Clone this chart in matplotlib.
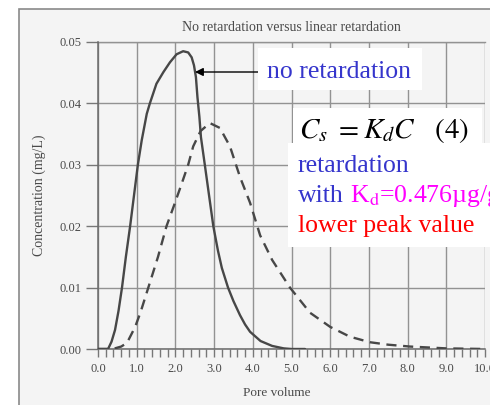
import matplotlib
matplotlib.use("Agg")
import matplotlib.pyplot as plt
from matplotlib.patches import Rectangle
from matplotlib.ticker import MultipleLocator

# ---- data ----
solid_x = [0.0, 0.26, 0.35, 0.44, 0.53, 0.62, 0.72, 0.83, 0.93, 1.03, 1.13, 1.26,
           1.34, 1.51, 1.69, 1.86, 2.03, 2.2, 2.33, 2.42, 2.48, 2.53, 2.57, 2.62,
           2.66, 2.76, 2.87, 2.98, 3.1, 3.2, 3.36, 3.5, 3.67, 3.8, 3.93, 4.2, 4.5,
           4.8, 5.0, 5.35]
solid_y = [0.0, 0.0, 0.0012, 0.0031, 0.0062, 0.010, 0.015, 0.020, 0.025, 0.030,
           0.034, 0.0383, 0.040, 0.0432, 0.0451, 0.0467, 0.048, 0.0485, 0.0483,
           0.0475, 0.0462, 0.0443, 0.041, 0.0378, 0.0345, 0.030, 0.025, 0.020,
           0.016, 0.0132, 0.010, 0.0078, 0.0055, 0.0040, 0.0028, 0.0013, 0.0005,
           0.0001, 0.0, 0.0]

dash_x = [0.0, 0.38, 0.6, 0.75, 0.96, 1.1, 1.3, 1.55, 1.77, 1.96, 2.15, 2.33,
          2.46, 2.65, 2.89, 3.15, 3.41, 3.67, 3.93, 4.19, 4.5, 4.96, 5.48, 6.0,
          6.51, 7.03, 7.5, 8.06, 9.0, 10.0]
dash_y = [0.0, 0.0, 0.0004, 0.001, 0.0036, 0.006, 0.010, 0.015, 0.020, 0.0233,
          0.0267, 0.030, 0.033, 0.0355, 0.0368, 0.036, 0.033, 0.028, 0.0238,
          0.0185, 0.0145, 0.010, 0.0059, 0.0036, 0.0020, 0.0011, 0.0007, 0.0004,
          0.0001, 0.0]

x_ticks = [0, 1, 2, 3, 4, 5, 6, 7, 8, 9, 10]
x_labels = ["0.0", "1.0", "2.0", "3.0", "4.0", "5.0", "6.0", "7.0", "8.0", "9.0", "10.0"]
y_ticks = [0.0, 0.01, 0.02, 0.03, 0.04, 0.05]
y_labels = ["0.00", "0.01", "0.02", "0.03", "0.04", "0.05"]

title = "No retardation versus linear retardation"
xlabel = "Pore volume"
ylabel = "Concentration (mg/L)"

# ---- figure ----
W, H = 490, 405
plt.rcParams['mathtext.fontset'] = 'stix'
serif = ['Liberation Serif', 'DejaVu Serif']
fig = plt.figure(figsize=(W / 100, H / 100), dpi=100, facecolor='white')

def fx(x):
    return x / W

def fy(y):
    return 1 - y / H

# paper frame (behind everything)
fig.add_artist(Rectangle((fx(19), -0.01), 1, fy(9) + 0.01, transform=fig.transFigure,
                         facecolor='#f4f4f4', edgecolor='#8a8a8a', lw=1.2,
                         zorder=-10))

ax = fig.add_axes([fx(98), fy(349), fx(485) - fx(98), fy(42) - fy(349)])
ax.set_facecolor('none')
ax.set_xlim(0, 10)
ax.set_ylim(0, 0.05)

gray_txt = '#4a4a4a'
ax.plot(solid_x, solid_y, color='#474747', lw=1.7, solid_joinstyle='round',
        solid_capstyle='round', zorder=3)
ax.plot(dash_x, dash_y, color='#474747', lw=1.7, linestyle=(0, (4.3, 2.8)), zorder=3)

ax.set_xticks(x_ticks)
ax.set_xticklabels(x_labels, fontfamily=serif, fontsize=9, color=gray_txt)
ax.set_yticks(y_ticks)
ax.set_yticklabels(y_labels, fontfamily=serif, fontsize=9, color=gray_txt)
ax.xaxis.set_minor_locator(MultipleLocator(0.2))
ax.tick_params(axis='x', which='both', direction='out', length=6, width=1,
               color='#777777', pad=4)
ax.tick_params(axis='y', which='major', direction='out', length=9, width=1,
               color='#777777', pad=3)

ax.grid(True, which='major', color='#929292', lw=1.0)
ax.set_axisbelow(True)
for s in ['top', 'right']:
    ax.spines[s].set_visible(False)
for s in ['left', 'bottom']:
    ax.spines[s].set_color('#6a6a6a')
    ax.spines[s].set_linewidth(1.1)
ax.axhline(0.05, color='#929292', lw=1.0, clip_on=False, zorder=0)

ax.set_title(title, fontfamily=serif, fontsize=10, color=gray_txt, pad=8)
ax.set_xlabel(xlabel, fontfamily=serif, fontsize=9.5, color=gray_txt)
ax.xaxis.set_label_coords((277 - 98) / 387, -0.125)
ax.set_ylabel(ylabel, fontfamily=serif, fontsize=10, color=gray_txt)
ax.yaxis.set_label_coords(-0.135, 0.5)

# ---- overlay annotations ----
blue = '#3535cc'
magenta = '#ff00ff'
red = '#ff0000'

def white_box(x0, y0, x1, y1):
    fig.add_artist(Rectangle((fx(x0), fy(y1)), fx(x1) - fx(x0), fy(y0) - fy(y1),
                             transform=fig.transFigure, facecolor='white',
                             edgecolor='none', zorder=5))

white_box(258, 48, 422, 90)
white_box(293, 108, 482, 143)
white_box(288, 143, 495, 247)

fig.text(fx(267), fy(78), "no retardation", fontfamily=serif, fontsize=18.5,
         color=blue, va='baseline', ha='left', zorder=6)
ax.annotate("", xy=(fx(195), fy(72)), xycoords='figure fraction',
            xytext=(fx(265), fy(72)), textcoords='figure fraction',
            arrowprops=dict(arrowstyle='-|>', color='black', lw=1.0,
                            mutation_scale=12, shrinkA=0, shrinkB=0),
            zorder=6)

fig.text(fx(299), fy(138), r"$C_s\ =K_dC\quad\mathrm{(4)}$", fontsize=21,
         color='black', va='baseline', ha='left', zorder=6)
fig.text(fx(298), fy(172), "retardation", fontfamily=serif, fontsize=18.5,
         color=blue, va='baseline', ha='left', zorder=6)
fig.text(fx(298), fy(202), "with", fontfamily=serif, fontsize=18.5,
         color=blue, va='baseline', ha='left', zorder=6)
fig.text(fx(350), fy(202), r"K$_\mathrm{d}$=0.476µg/g", fontfamily=serif,
         fontsize=18.5, color=magenta, va='baseline', ha='left', zorder=6)
fig.text(fx(298), fy(232), "lower peak value", fontfamily=serif, fontsize=18.5,
         color=red, va='baseline', ha='left', zorder=6)

fig.savefig("out.png", dpi=100, facecolor=fig.get_facecolor())
